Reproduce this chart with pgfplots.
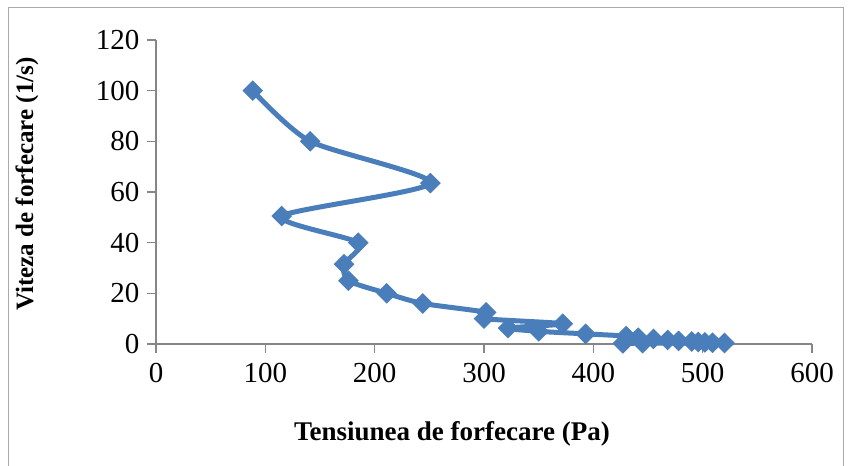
\documentclass[border=0pt]{standalone}
\usepackage{fontspec}
\setmainfont{Liberation Serif}
\usepackage{pgfplots}
\pgfplotsset{compat=1.18}
\definecolor{exblue}{RGB}{74,126,187}
\definecolor{axgray}{RGB}{134,134,134}
\definecolor{framegray}{RGB}{170,170,170}
\begin{document}
\begin{tikzpicture}
\useasboundingbox (0,0) rectangle (852pt,466pt);
\fill[white] (0,0) rectangle (852pt,466pt);
\draw[framegray, line width=1pt] (8pt,-2pt) -- (8pt,458pt) -- (843pt,458pt) -- (843pt,-2pt);
\begin{axis}[
  at={(156pt,122pt)}, anchor=south west,
  scale only axis, width=656pt, height=304pt,
  xmin=0, xmax=600, ymin=0, ymax=120,
  xtick={0,100,...,600}, ytick={0,20,...,120},
  axis x line=bottom, axis y line=left,
  axis line style={-, axgray, line width=1.5pt},
  tick style={axgray, line width=1.5pt},
  tick align=outside, major tick length=9pt,
  ticklabel style={font=\fontsize{29}{29}\selectfont, text=black},
  xticklabel style={yshift=-7pt},
  yticklabel style={xshift=-4pt},
  /pgf/number format/assume math mode=true,
  clip=false,
]
\addplot[exblue, line width=5pt, smooth, tension=0.42,
  mark=square*, mark size=6.8pt, mark options={solid, rotate=45, fill=exblue, draw=exblue, line width=1pt}]
  coordinates {
  (88.5,100) (141,80) (251,63.5) (115,50.5) (185,40) (172,31.5) (176,25)
  (211,20) (244,16) (302,12.5) (300,10) (372,8) (322,6.3) (350,5) (393,4)
  (430,3.15) (441,2.5) (455,2.0) (468,1.6) (478,1.25) (490,1.0) (496,0.8)
  (502,0.63) (509,0.5) (520,0.4) (445,0.315) (427,0.25)
  };
\end{axis}
\node[font=\bfseries\fontsize{25}{25}\selectfont, rotate=90] at (27pt,282pt) {Viteza de forfecare (1/s)};
\node[font=\bfseries\fontsize{27}{27}\selectfont] at (452pt,32pt) {Tensiunea de forfecare (Pa)};
\end{tikzpicture}
\end{document}
